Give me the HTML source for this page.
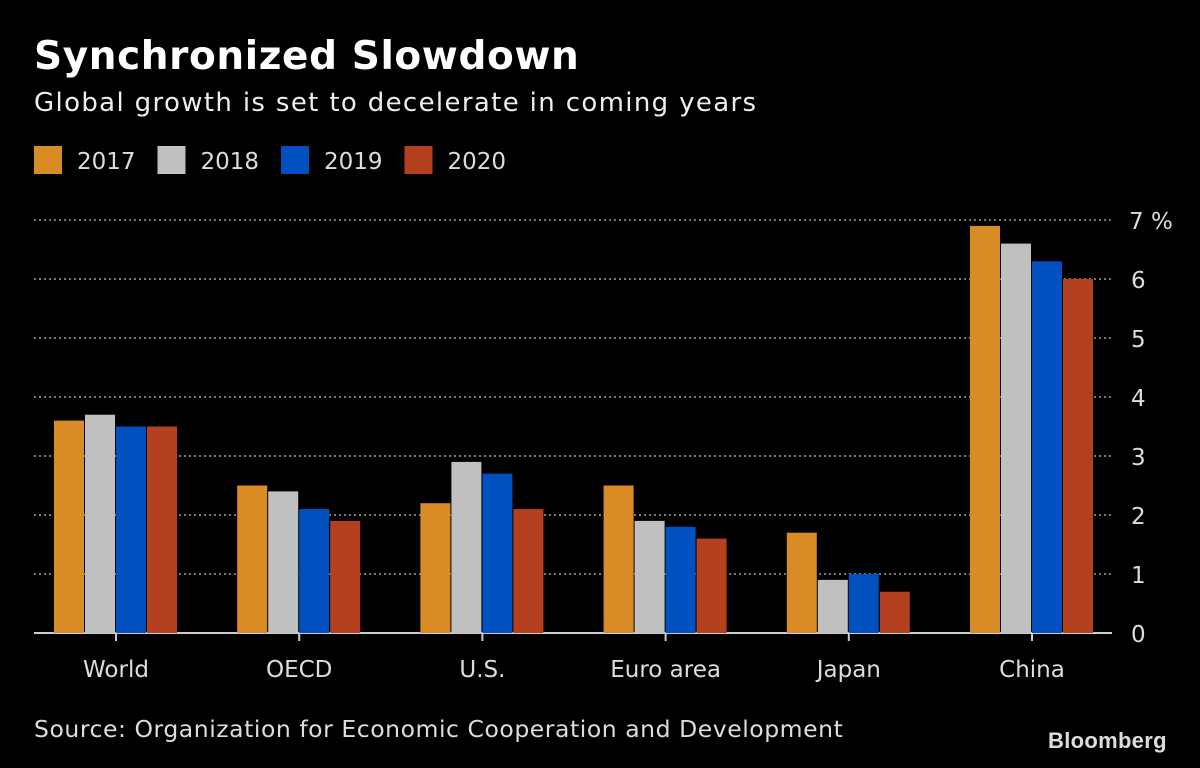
<!DOCTYPE html>
<html><head><meta charset="utf-8"><style>
body{margin:0;background:#000;width:1200px;height:768px;overflow:hidden;font-family:"DejaVu Sans",sans-serif;color:#fff;position:relative}
.t{position:absolute;white-space:nowrap}
</style></head><body>
<div class="t" style="left:34px;top:34px;font-size:39px;font-weight:bold;letter-spacing:0.6px">Synchronized Slowdown</div>
<div class="t" style="left:34px;top:88px;font-size:26px;color:#eee;letter-spacing:1.35px">Global growth is set to decelerate in coming years</div>
<div class="t" style="left:34px;top:715px;font-size:23.5px;color:#ddd;letter-spacing:0.55px">Source: Organization for Economic Cooperation and Development</div>
<div class="t" style="left:1048px;top:728px;font-size:22px;font-weight:bold;color:#ddd;font-family:'Liberation Sans',sans-serif;letter-spacing:0.3px">Bloomberg</div>
<svg id="c" width="1200" height="768" style="position:absolute;left:0;top:0"></svg>
<script>
const categories=["World","OECD","U.S.","Euro area","Japan","China"];
const seriesNames=["2017","2018","2019","2020"];
const v2017=[3.6,2.5,2.2,2.5,1.7,6.9];
const v2018=[3.7,2.4,2.9,1.9,0.9,6.6];
const v2019=[3.5,2.1,2.7,1.8,1.0,6.3];
const v2020=[3.5,1.9,2.1,1.6,0.7,6.0];
const yTicks=[0,1,2,3,4,5,6,7];
const colors=["#d98b26","#c0c0c0","#0050c0","#b5401f"];
const series=[v2017,v2018,v2019,v2020];
const svg=document.getElementById('c');const NS="http://www.w3.org/2000/svg";
function mk(t,a){const e=document.createElementNS(NS,t);for(const k in a)e.setAttribute(k,a[k]);svg.appendChild(e);return e;}
const y=v=>633-v*59;
const xc=i=>116+i*183.2;
yTicks.forEach(t=>{
 if(t>0){const l=mk('line',{x1:34,x2:1112,y1:y(t),y2:y(t),stroke:'#777','stroke-width':2,'stroke-dasharray':'2,3'});
 
 }
 const tx=mk('text',{x:t==7?1129:1131,y:y(t)+9,fill:'#ddd','font-size':23,'font-family':'DejaVu Sans'});
 tx.textContent=t==7?'7 %':String(t);
 
 
});
const ax=mk('line',{x1:34,x2:1112,y1:633,y2:633,stroke:'#ccc','stroke-width':2});


categories.forEach((c,i)=>{
 series.forEach((s,j)=>{
  const r=mk('rect',{x:xc(i)-62+j*31,y:y(s[i]),width:30,height:s[i]*59,fill:colors[j]});
  
  
 });
 const tk=mk('line',{x1:xc(i),x2:xc(i),y1:633,y2:641,stroke:'#ccc','stroke-width':2});
 
 
 const t=mk('text',{x:xc(i),y:677,fill:'#ddd','font-size':23,'text-anchor':'middle','font-family':'DejaVu Sans'});
 t.textContent=c;
 
 
});
seriesNames.forEach((n,j)=>{
 const x0=34+j*123.5;
 const r=mk('rect',{x:x0,y:146,width:28,height:28,fill:colors[j]});
 
 
 const t=mk('text',{x:x0+43,y:169,fill:'#ddd','font-size':23,'font-family':'DejaVu Sans'});
 t.textContent=n;
 
 
});
</script>
</body></html>
